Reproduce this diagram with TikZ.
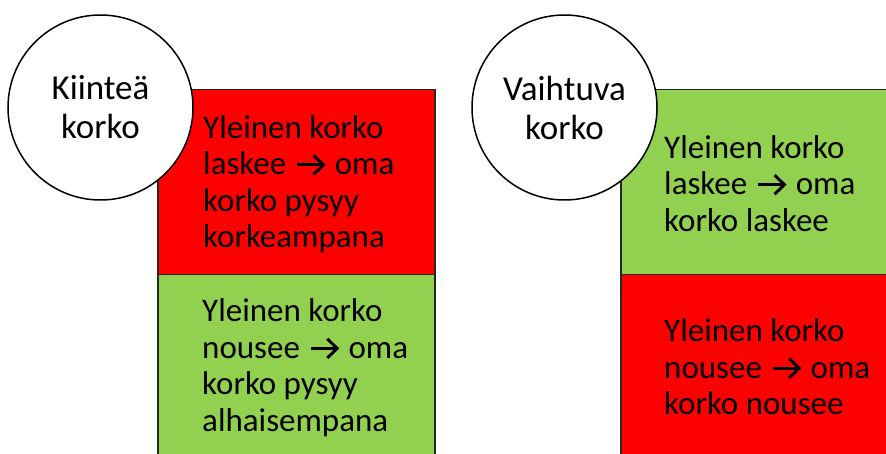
\documentclass[tikz,border=0pt]{standalone}
\usepackage{fontspec}
\setmainfont{Carlito}
\definecolor{upred}{HTML}{FF0000}
\definecolor{downgreen}{HTML}{92D050}
% bold chevron arrow set inline with the text
\newcommand{\ar}{\tikz[baseline=0pt, x=1em, y=1em, line width=0.09em, line cap=butt, line join=miter]
  {\path (0,0) (1.02,0);
   \draw (0.1,0.3) -- (0.88,0.3);
   \draw (0.6,0.59) -- (0.9,0.3) -- (0.6,0.01);}}
\tikzset{
  cell/.style={draw=black!85, line width=1.5pt, anchor=north west, inner sep=0pt},
  celltext/.style={anchor=west, align=left, inner sep=0pt, font=\fontsize{33pt}{36.5pt}\selectfont},
  kind/.style={circle, draw=black, line width=1.5pt, fill=white, minimum size=185pt, inner sep=0pt,
    align=center, font=\fontsize{35pt}{39pt}\selectfont}
}
\begin{document}
\begin{tikzpicture}[x=1pt,y=-1pt]
\useasboundingbox (0,0) rectangle (886,454);
% fixed rate column
\node[cell, fill=upred, minimum width=277pt, minimum height=185pt] (fixdown) at (157,89) {};
\node[cell, fill=downgreen, minimum width=277pt, minimum height=182pt] (fixup) at (157,274) {};
\node[celltext] (fixdowntext) at ([xshift=46pt,yshift=-2pt]fixdown.west)
  {Yleinen korko\\laskee \ar{} oma\\korko pysyy\\korkeampana};
\node[celltext] (fixuptext) at ([xshift=45pt,yshift=-2pt]fixup.west)
  {Yleinen korko\\nousee \ar{} oma\\korko pysyy\\alhaisempana};
% variable rate column
\node[cell, fill=downgreen, minimum width=275pt, minimum height=185pt] (vardown) at (620,89) {};
\node[cell, fill=upred, minimum width=275pt, minimum height=182pt] (varup) at (620,274) {};
\node[celltext] (vardowntext) at ([xshift=44pt,yshift=-1pt]vardown.west)
  {Yleinen korko\\laskee \ar{} oma\\korko laskee};
\node[celltext] (varuptext) at ([xshift=44pt,yshift=-1pt]varup.west)
  {Yleinen korko\\nousee \ar{} oma\\korko nousee};
% headings
\node[kind] (fixed) at (100.5,107.5) {Kiinteä\\korko};
\node[kind] (variable) at (564.5,107.5) {Vaihtuva\\korko};
\end{tikzpicture}
\end{document}
